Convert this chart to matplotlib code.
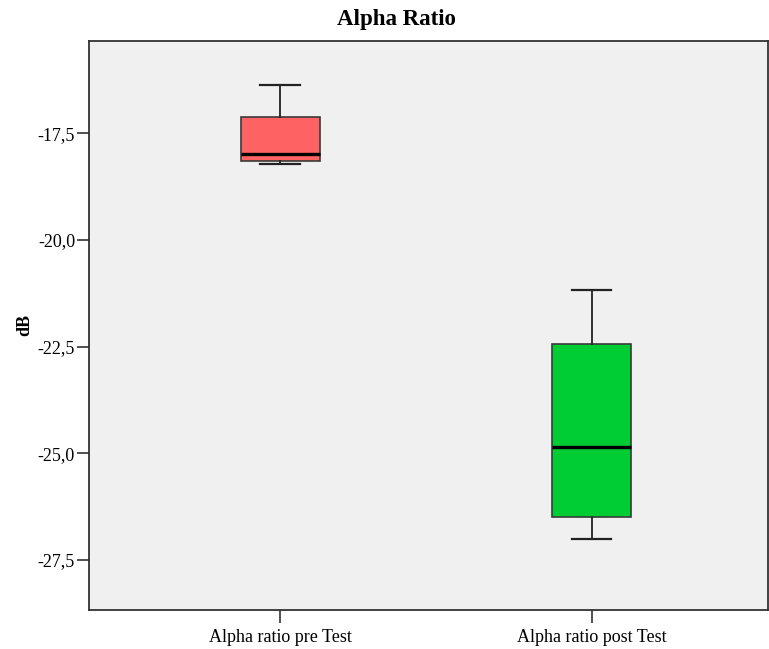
import numpy as np
import matplotlib
matplotlib.use("Agg")
import matplotlib.pyplot as plt

# five-number summaries read per group (dB)
groups = ["Alpha ratio pre Test", "Alpha ratio post Test"]
whislo = [-18.21, -27.00]
q1 = [-18.15, -26.50]
med = [-17.99, -24.86]
q3 = [-17.13, -22.45]
whishi = [-16.38, -21.18]
box_colors = ["#FF6262", "#00CC33"]

yticks = [-17.5, -20.0, -22.5, -25.0, -27.5]
ytick_labels = ["-17,5", "-20,0", "-22,5", "-25,0", "-27,5"]

plt.rcParams["font.family"] = ["Liberation Serif", "DejaVu Serif"]

fig = plt.figure(figsize=(7.69, 6.49), dpi=100)
ax = fig.add_axes([89 / 769, 1 - 610 / 649, (768 - 89) / 769, (610 - 41) / 649])
ax.set_facecolor("#F0F0F0")

stats = []
for i in range(len(groups)):
    stats.append({"label": groups[i], "whislo": whislo[i], "q1": q1[i],
                  "med": med[i], "q3": q3[i], "whishi": whishi[i], "fliers": []})

bp = ax.bxp(stats, positions=[1, 2], widths=0.253, capwidths=0.127,
            patch_artist=True, showfliers=False,
            boxprops=dict(edgecolor="#3a3a3a", linewidth=1.2),
            medianprops=dict(color="black", linewidth=2.4),
            whiskerprops=dict(color="#222222", linewidth=1.3),
            capprops=dict(color="#222222", linewidth=1.6))
for patch, c in zip(bp["boxes"], box_colors):
    patch.set_facecolor(c)

ax.set_xlim(0.386, 2.566)
ax.set_ylim(-28.67, -15.34)
ax.set_yticks(yticks)
ax.set_yticklabels(ytick_labels)
ax.set_xticks([1, 2])
ax.set_xticklabels(groups)
ax.tick_params(axis="both", direction="out", length=9, width=1.2,
               color="#333333", labelsize=13)
ax.tick_params(axis="y", pad=1)
ax.tick_params(axis="x", pad=5)

for s in ax.spines.values():
    s.set_color("#333333")
    s.set_linewidth(1.3)

ax.set_ylabel("dB", fontsize=13, fontweight="bold", labelpad=3)
fig.text(396.5 / 769, 1 - 19 / 649, "Alpha Ratio", ha="center", va="center",
         fontsize=16.5, fontweight="bold")

fig.savefig("out.png", dpi=100)
